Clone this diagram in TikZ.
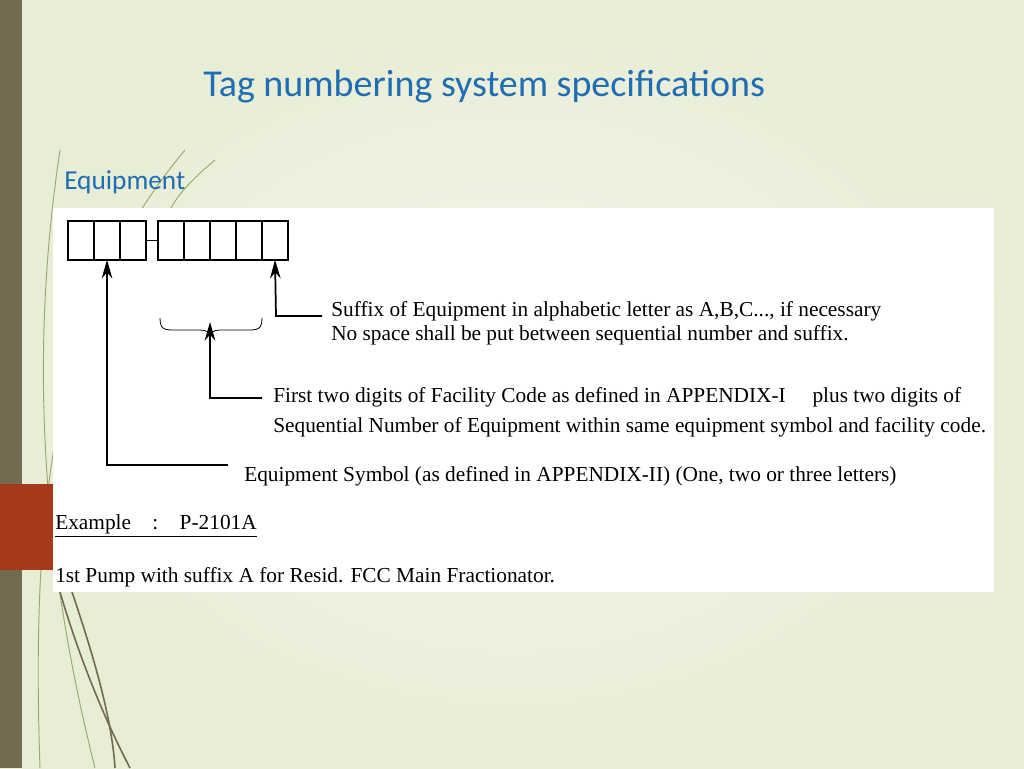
\documentclass[tikz,border=0pt]{standalone}
\usepackage{fontspec}
\setmainfont{Liberation Serif}
\newfontfamily\titlefont{Carlito}
\usetikzlibrary{arrows.meta}
\definecolor{bgc}{HTML}{E8EDD6}
\definecolor{bgl}{HTML}{F4F6EC}
\definecolor{barc}{HTML}{726B4F}
\definecolor{redc}{HTML}{A8381C}
\definecolor{titc}{HTML}{1F6DB2}
\definecolor{leaf}{HTML}{9AA86A}
\begin{document}
\begin{tikzpicture}[x=0.75pt,y=-0.75pt,
  cell/.style={draw,line width=1.4pt,minimum width=19.5pt,minimum height=29pt,inner sep=0,outer sep=0},
  conn/.style={line width=1.4pt},
  arr/.style={line width=1.3pt,-{Stealth[length=14pt,width=8pt]}},
  txt/.style={anchor=west,font=\fontsize{16}{19}\selectfont,inner sep=0}]
\useasboundingbox (0,0) rectangle (1024,768);
\shade[inner color=bgl, outer color=bgc] (0,0) rectangle (1024,768);
\fill[barc] (0,0) rectangle (22,768);
\draw[leaf,line width=0.7pt] (185,150) .. controls (60,300) and (30,480) .. (40,768);
\draw[leaf,line width=0.7pt] (60,150) .. controls (30,350) and (40,550) .. (95,768);
\draw[leaf,line width=0.7pt] (215,160) .. controls (185,185) and (175,200) .. (170,210);
\draw[barc,line width=1.2pt] (60,592) .. controls (80,660) and (105,720) .. (130,768);
\draw[barc,line width=1.2pt] (72,592) .. controls (95,660) and (112,720) .. (115,768);
\fill[white] (53,208) rectangle (994,592);
\fill[redc] (0,484) rectangle (53,570);
\node[anchor=west,inner sep=0,text=titc,font=\titlefont\fontsize{28.5}{32}\selectfont] (title) at (203,87) {Tag numbering system specifications};
\node[anchor=west,inner sep=0,text=titc,font=\titlefont\fontsize{20.5}{24}\selectfont] (eq) at (64,182) {Equipment};
\foreach \i in {0,1,2}{\node[cell] (a\i) at (81+26*\i,240.5) {};}
\foreach \i in {0,1,2,3,4}{\node[cell] (b\i) at (171+26*\i,240.5) {};}
\draw[conn] (a2.east) -- (b0.west);
\draw[line width=0.6pt] (160,318) .. controls (160,330) and (165,330) .. (175,330) -- (200,330) .. controls (207,330) and (210,333) .. (210,337);
\draw[line width=0.6pt] (262,318) .. controls (262,330) and (257,330) .. (247,330) -- (220,330) .. controls (213,330) and (210,333) .. (210,337);
\coordinate (bt) at (210,322);
\coordinate (c1) at (276,316);
\coordinate (c2) at (210,398);
\coordinate (c3) at (107,465);
\node[txt] (t1) at (331,311) {Suffix of Equipment in alphabetic letter as A,B,C..., if necessary};
\node[txt] (t1b) at (331,335) {No space shall be put between sequential number and suffix.};
\node[txt] (t2) at (273,397) {First two digits of Facility Code as defined in APPENDIX-I\quad\ plus two digits of};
\node[txt] (t2b) at (273,427) {Sequential Number of Equipment within same equipment symbol and facility code.};
\node[txt] (t3) at (244,476) {Equipment Symbol (as defined in APPENDIX-II) (One, two or three letters)};
\draw[arr] (322,316) -- (c1) -- (b4.south);
\draw[arr] (262,398) -- (c2) -- (bt);
\draw[arr] (228,465) -- (c3) -- (a1.south);
\node[txt] (ex) at (55,526) {\underline{Example\quad:\quad P-2101A}};
\node[txt] (ex2) at (55,577) {1st Pump with suffix A for Resid. FCC Main Fractionator.};
\end{tikzpicture}
\end{document}
